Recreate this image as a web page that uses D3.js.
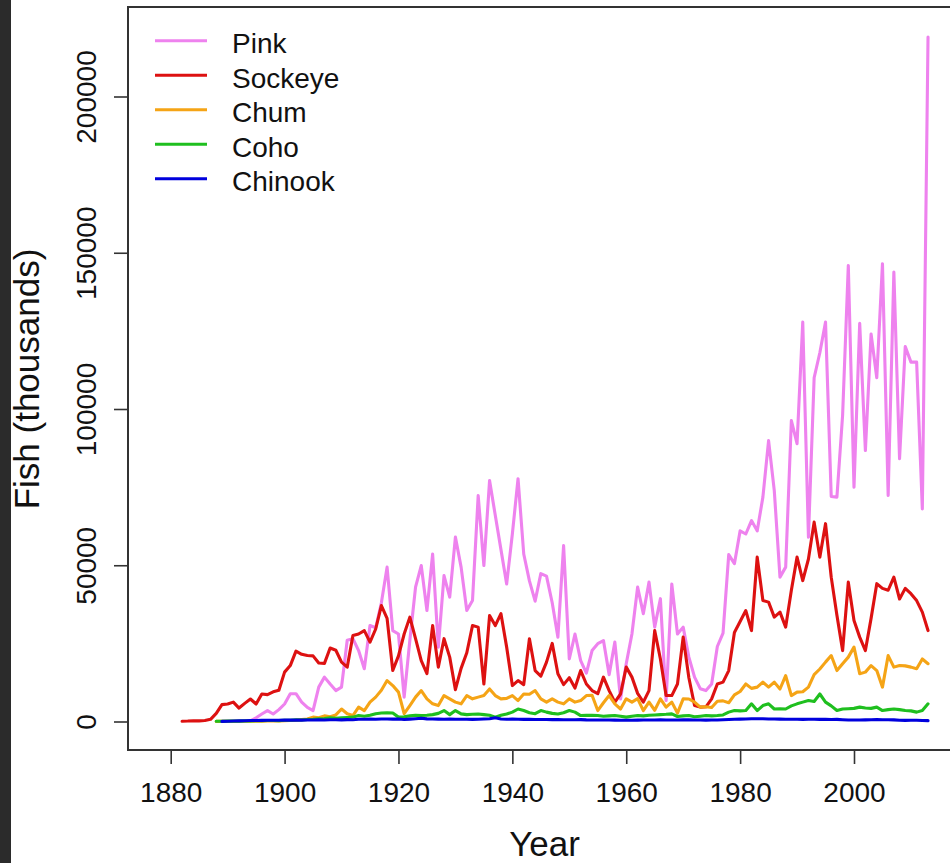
<!DOCTYPE html>
<html lang="en">
<head>
    <meta charset="UTF-8">
    <title>Alaska salmon catch</title>
    <style>
        body {
            margin: 0;
            background: #fff;
        }
        svg {
            display: block;
            font-family: "Liberation Sans", Arial, sans-serif;
        }
        .axis line {
            stroke: #333;
            stroke-width: 1.6;
        }
        .axis text {
            fill: #111;
            font-size: 28px;
        }
        .series {
            fill: none;
            stroke-width: 3.1;
            stroke-linejoin: round;
            stroke-linecap: round;
        }
    </style>
</head>
<body>
<div id="chart"></div>

<script src="https://d3js.org/d3.v7.min.js"></script>
<script>

    // catch in thousands of fish, one value per year from the start year on
    var pinkStart = 1894;
    var pink = [200, 1200, 2400, 3500, 2400, 3800,
        5600, 8900, 8900, 6200, 4500, 3500, 11000, 14200, 12000, 9900,
        11000, 26000, 26500, 22700, 16900, 30700, 30000, 38000, 49400, 29100,
        28000, 7800, 26000, 43000, 49900, 35500, 53600, 23800, 46700, 39800,
        59000, 49400, 35500, 38700, 72300, 49900, 77100, 66000, 55000, 44000,
        60000, 77700, 53600, 45000, 38500, 47300, 46500, 38000, 27000, 56300,
        20000, 28000, 19500, 15500, 22700, 24900, 25900, 15000, 25400, 7200,
        18500, 28000, 43000, 34500, 44600, 30200, 39300, 6700, 44000, 28000,
        30200, 20600, 14200, 10500, 9900, 12000, 24000, 28300, 53400, 50500,
        61000, 60000, 64300, 61000, 71800, 89900, 73900, 46200, 49400, 96300,
        88900, 127800, 59000, 110000, 118000, 127800, 72000, 71800, 98000, 145900,
        75000, 127400, 86700, 124000, 110000, 146500, 72300, 143800, 84100, 120000,
        115000, 115000, 68000, 219000];

    var sockeyeStart = 1882;
    var sockeye = [100, 150, 250, 200, 300, 700, 2600, 5400,
        5600, 6200, 4300, 5800, 7200, 5600, 8800, 8600, 9500, 10000,
        15800, 17900, 22500, 21500, 21100, 21000, 18700, 18600, 23500, 22800,
        19000, 17400, 27500, 28000, 29100, 25400, 29600, 37100, 33000, 16300,
        21000, 28000, 33400, 26500, 19500, 15300, 30700, 17400, 26500, 20600,
        10200, 17000, 22000, 30700, 30200, 12000, 33900, 30700, 34500, 23800,
        11500, 13100, 11800, 26500, 16300, 14500, 19000, 25000, 15300, 11800,
        14000, 10700, 16300, 12000, 9900, 8900, 14200, 9900, 6200, 8800,
        17400, 14200, 9000, 6200, 9900, 29100, 20000, 8300, 8300, 12000,
        27000, 14000, 5100, 4600, 4700, 7250, 12000, 12600, 16300, 28500,
        32000, 35500, 29100, 52600, 38700, 38200, 33400, 35000, 30200, 42000,
        52600, 45100, 52000, 63800, 52600, 63300, 46200, 34000, 22700, 44600,
        32300, 27000, 22700, 33000, 44100, 42600, 42000, 46200, 39200, 42600,
        40900, 38700, 35000, 29100];

    var chumStart = 1888;
    var chum = [30, 40,
        60, 50, 80, 70, 100, 90, 120, 150, 140, 200,
        250, 300, 400, 600, 800, 1400, 1200, 1800, 1500, 2100,
        4000, 2500, 1900, 4600, 3500, 6200, 7800, 10000, 13100, 11500,
        9400, 2500, 5100, 7800, 9900, 7250, 5650, 5100, 8300, 7250,
        6200, 5650, 8300, 7250, 7800, 8300, 10400, 8300, 7250, 7400,
        8300, 6700, 8800, 8700, 9900, 7250, 6200, 7250, 6200, 5650,
        7250, 6200, 6700, 8300, 8400, 3500, 6000, 8300, 5650, 4000,
        7250, 6200, 7300, 3500, 6200, 3600, 7250, 4600, 6200, 2700,
        7250, 7200, 6200, 4600, 4700, 4500, 6500, 6600, 6000, 8500,
        9600, 12000, 10600, 11000, 12600, 11000, 12600, 10400, 14700, 8300,
        9400, 9500, 11000, 15000, 16800, 19000, 21100, 16300, 18500, 20600,
        23800, 15300, 15800, 17900, 16300, 11000, 21100, 17400, 17900, 17800,
        17400, 16900, 20000, 18500];

    var cohoStart = 1888;
    var coho = [80, 60,
        120, 150, 110, 210, 180, 260, 240, 330, 310, 280,
        420, 390, 520, 480, 650, 700, 860, 940, 1150, 1000,
        1200, 1300, 1400, 1900, 1700, 2000, 2500, 2700, 2800, 2700,
        1400, 1500, 1800, 2000, 1900, 2000, 2200, 2600, 3500, 2200,
        3500, 2450, 2200, 2300, 2400, 2200, 2000, 1400, 2000, 2400,
        3000, 4000, 3500, 2800, 2500, 3500, 3000, 2600, 2400, 2800,
        3500, 3000, 1900, 1950, 2000, 1900, 1700, 1800, 1900, 1700,
        1400, 1700, 1900, 1800, 2000, 2100, 2200, 2300, 2450, 1600,
        1800, 1900, 1500, 1700, 1900, 1800, 1900, 2100, 3000, 3500,
        3400, 3500, 5650, 3500, 5100, 5650, 4000, 4100, 4000, 5000,
        5650, 6200, 6700, 6400, 8800, 6200, 5000, 3500, 4000, 4100,
        4200, 4600, 4300, 4200, 4600, 3500, 3800, 4000, 3800, 3500,
        3400, 3000, 3500, 5650];

    var chinookStart = 1889;
    var chinook = [40,
        90, 150, 200, 260, 320, 300, 350, 380, 420, 400,
        460, 430, 480, 450, 500, 480, 520, 500, 540, 560,
        520, 600, 580, 700, 720, 760, 700, 820, 800, 750,
        780, 620, 760, 900, 1050, 850, 800, 760, 720, 780,
        700, 740, 700, 680, 720, 800, 860, 1200, 780, 700,
        760, 720, 680, 700, 660, 620, 640, 600, 650, 580,
        560, 540, 600, 520, 500, 480, 500, 460, 440, 420,
        400, 420, 440, 460, 480, 500, 520, 500, 480, 500,
        520, 540, 500, 460, 440, 460, 500, 560, 620, 700,
        760, 800, 860, 900, 860, 820, 800, 760, 740, 720,
        700, 680, 720, 700, 680, 700, 660, 680, 560, 480,
        460, 500, 520, 560, 600, 580, 560, 520, 380, 360,
        400, 420, 300, 280];

    var speciesNames = ["Pink", "Sockeye", "Chum", "Coho", "Chinook"];
    var speciesColors = ["#ee82ee", "#dd1111", "#f5a416", "#1fbf1f", "#0000dd"];

    var xTicks = [1880, 1900, 1920, 1940, 1960, 1980, 2000];
    var yTicks = [0, 50000, 100000, 150000, 200000];

    // build the series table from the arrays above
    var series = [
        {start: pinkStart, values: pink},
        {start: sockeyeStart, values: sockeye},
        {start: chumStart, values: chum},
        {start: cohoStart, values: coho},
        {start: chinookStart, values: chinook}
    ].map(function(s, i) {
        return {
            name: speciesNames[i],
            color: speciesColors[i],
            points: s.values.map(function(v, j) { return {year: s.start + j, value: v}; })
        };
    });

    var width = 950, height = 863;
    var box = {left: 128, top: 7, right: 1030, bottom: 750};

    var svg = d3.select("#chart").append("svg")
            .attr("width", width)
            .attr("height", height);

    svg.append("rect")
            .attr("width", width)
            .attr("height", height)
            .attr("fill", "#fff");

    // dark strip on the left of the screenshot
    svg.append("rect")
            .attr("width", 11)
            .attr("height", height)
            .attr("fill", "#2b2b2b");

    var x = d3.scaleLinear()
            .domain([1880, 2000])
            .range([170.7, 854]);

    var y = d3.scaleLinear()
            .domain([0, 200000])
            .range([721.5, 96.5]);

    // lines
    var line = d3.line()
            .x(function(d) { return x(d.year); })
            .y(function(d) { return y(d.value); });

    svg.selectAll(".series")
            .data(series)
            .enter().append("path")
            .attr("class", "series")
            .attr("stroke", function(d) { return d.color; })
            .attr("d", function(d) { return line(d.points); });

    // x axis
    svg.append("g")
            .attr("class", "axis")
            .attr("transform", "translate(0," + box.bottom + ")")
            .call(d3.axisBottom(x).tickValues(xTicks).tickFormat(d3.format("d"))
                    .tickSize(14).tickPadding(18))
            .call(function(g) { g.select(".domain").remove(); });

    // y axis, labels turned like R does
    svg.append("g")
            .attr("class", "axis")
            .attr("transform", "translate(" + box.left + ",0)")
            .call(d3.axisLeft(y).tickValues(yTicks).tickFormat(d3.format("d")).tickSize(14))
            .call(function(g) {
                g.select(".domain").remove();
                g.selectAll(".tick text")
                        .attr("transform", "rotate(-90)")
                        .attr("x", 0)
                        .attr("y", -32)
                        .attr("dy", 0)
                        .style("text-anchor", "middle");
            });

    // plot frame (right side runs off the picture)
    svg.append("rect")
            .attr("x", box.left)
            .attr("y", box.top)
            .attr("width", box.right - box.left)
            .attr("height", box.bottom - box.top)
            .attr("fill", "none")
            .attr("stroke", "#333")
            .attr("stroke-width", 2);

    // axis titles
    svg.append("text")
            .attr("x", 544.5)
            .attr("y", 856)
            .attr("text-anchor", "middle")
            .attr("font-size", 35)
            .attr("fill", "#111")
            .text("Year");

    svg.append("text")
            .attr("transform", "translate(39,379) rotate(-90)")
            .attr("text-anchor", "middle")
            .attr("font-size", 35)
            .attr("fill", "#111")
            .text("Fish (thousands)");

    // legend
    var legend = svg.selectAll(".legend")
            .data(series)
            .enter().append("g")
            .attr("class", "legend")
            .attr("transform", function(d, i) { return "translate(155," + (40.7 + i * 34.5) + ")"; });

    legend.append("line")
            .attr("x1", 0)
            .attr("x2", 52)
            .attr("stroke", function(d) { return d.color; })
            .attr("stroke-width", 3);

    legend.append("text")
            .attr("x", 77)
            .attr("y", 12.5)
            .attr("font-size", 28)
            .attr("fill", "#111")
            .text(function(d) { return d.name; });

</script>
</body>
</html>
